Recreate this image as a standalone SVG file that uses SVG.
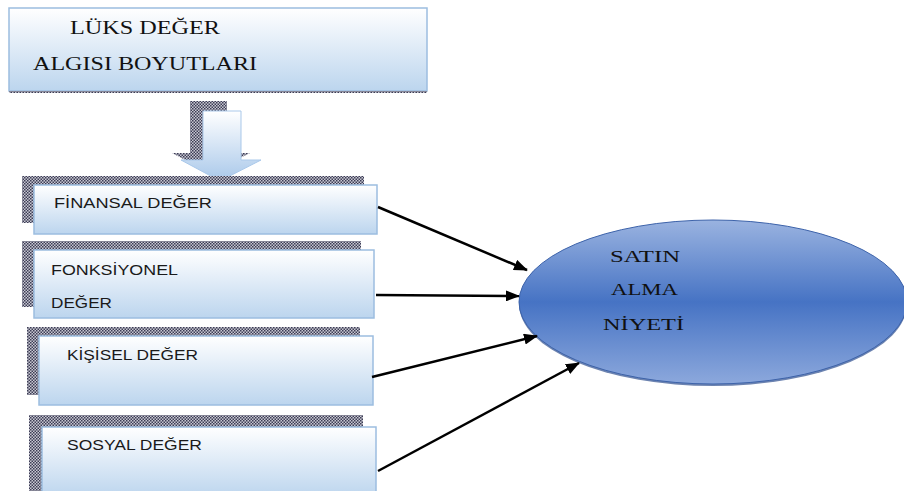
<svg xmlns="http://www.w3.org/2000/svg" width="904" height="491" viewBox="0 0 904 491">
<defs>
<linearGradient id="boxg" x1="0" y1="0" x2="0" y2="1">
<stop offset="0" stop-color="#ffffff"/>
<stop offset="1" stop-color="#bcd5ee"/>
</linearGradient>
<linearGradient id="arrg" x1="0" y1="0" x2="0" y2="1">
<stop offset="0" stop-color="#ffffff"/>
<stop offset="1" stop-color="#a9c8ea"/>
</linearGradient>
<linearGradient id="ellg" x1="0" y1="0" x2="0" y2="1">
<stop offset="0" stop-color="#9ab3e0"/>
<stop offset="0.5" stop-color="#4673c4"/>
<stop offset="1" stop-color="#8ca8dc"/>
</linearGradient>
<pattern id="dither" width="3" height="3" patternUnits="userSpaceOnUse">
<rect width="3" height="3" fill="#c8c8d2"/>
<rect width="1.5" height="1.5" fill="#3c3c55"/>
<rect x="1.5" y="1.5" width="1.5" height="1.5" fill="#3c3c55"/>
</pattern>
<marker id="ah" markerWidth="14" markerHeight="11" refX="13" refY="5.5" orient="auto" markerUnits="userSpaceOnUse">
<path d="M0,0 L14,5.5 L0,11 Z" fill="#000"/>
</marker>
<style>
.box{fill:url(#boxg);stroke:#9cbde0;stroke-width:1.5}
.shadow{fill:url(#dither)}
.sans{font-family:"Liberation Sans","DejaVu Sans",sans-serif;font-size:14px;fill:#1a1a1a}
.serif{font-family:"Liberation Serif","DejaVu Serif",serif;fill:#111}
.conn{stroke:#000;stroke-width:2.5;fill:none;marker-end:url(#ah)}
</style>
</defs>

<g id="title">
<rect x="9" y="8" width="418" height="83" class="box"/>
<line x1="9" y1="92" x2="427" y2="92" stroke="url(#dither)" stroke-width="2"/>
<text x="70" y="34" class="serif" font-size="18" textLength="150" lengthAdjust="spacingAndGlyphs">LÜKS DEĞER</text>
<text x="33" y="70" class="serif" font-size="18" textLength="224" lengthAdjust="spacingAndGlyphs">ALGISI BOYUTLARI</text>
</g>

<g id="downarrow">
<path d="M190,101 H227 V153 H250 L210,173 L172,153 H190 Z" class="shadow"/>
<path d="M203,111 H241 V160 H261 L220,181 L181,160 H203 Z" fill="url(#arrg)" stroke="#a9c8ea" stroke-width="1"/>
</g>

<g id="finansal">
<rect x="22" y="176" width="342" height="47" class="shadow"/>
<rect x="34" y="185" width="343" height="49" class="box"/>
<text x="54" y="208" class="sans" textLength="158" lengthAdjust="spacingAndGlyphs">FİNANSAL DEĞER</text>
</g>

<g id="fonksiyonel">
<rect x="22" y="241" width="339" height="66" class="shadow"/>
<rect x="34" y="250" width="340" height="68" class="box"/>
<text x="51" y="275" class="sans" textLength="127" lengthAdjust="spacingAndGlyphs">FONKSİYONEL</text>
<text x="51" y="308" class="sans" textLength="61" lengthAdjust="spacingAndGlyphs">DEĞER</text>
</g>

<g id="kisisel">
<rect x="27" y="327" width="333" height="68" class="shadow"/>
<rect x="39" y="336" width="334" height="69" class="box"/>
<text x="67" y="360" class="sans" textLength="131" lengthAdjust="spacingAndGlyphs">KİŞİSEL DEĞER</text>
</g>

<g id="sosyal">
<rect x="29" y="415" width="334" height="80" class="shadow"/>
<rect x="42" y="427" width="334" height="70" class="box"/>
<text x="67" y="450" class="sans" textLength="135" lengthAdjust="spacingAndGlyphs">SOSYAL DEĞER</text>
</g>

<g id="satin">
<ellipse cx="713" cy="304" rx="194" ry="82" fill="#2d4f8f" opacity="0.7"/>
<ellipse cx="713" cy="302" rx="194" ry="82" fill="url(#ellg)" stroke="#3d63aa" stroke-width="1"/>
<text x="610" y="262" class="serif" font-size="16" textLength="70" lengthAdjust="spacingAndGlyphs">SATIN</text>
<text x="611" y="295" class="serif" font-size="16" textLength="67" lengthAdjust="spacingAndGlyphs">ALMA</text>
<text x="603" y="330" class="serif" font-size="16" textLength="81" lengthAdjust="spacingAndGlyphs">NİYETİ</text>
</g>

<g id="connectors">
<line x1="378" y1="207" x2="527" y2="270" class="conn"/>
<line x1="376" y1="295" x2="519" y2="296" class="conn"/>
<line x1="372" y1="377" x2="537" y2="336" class="conn"/>
<line x1="378" y1="471" x2="579" y2="363" class="conn"/>
</g>
</svg>
